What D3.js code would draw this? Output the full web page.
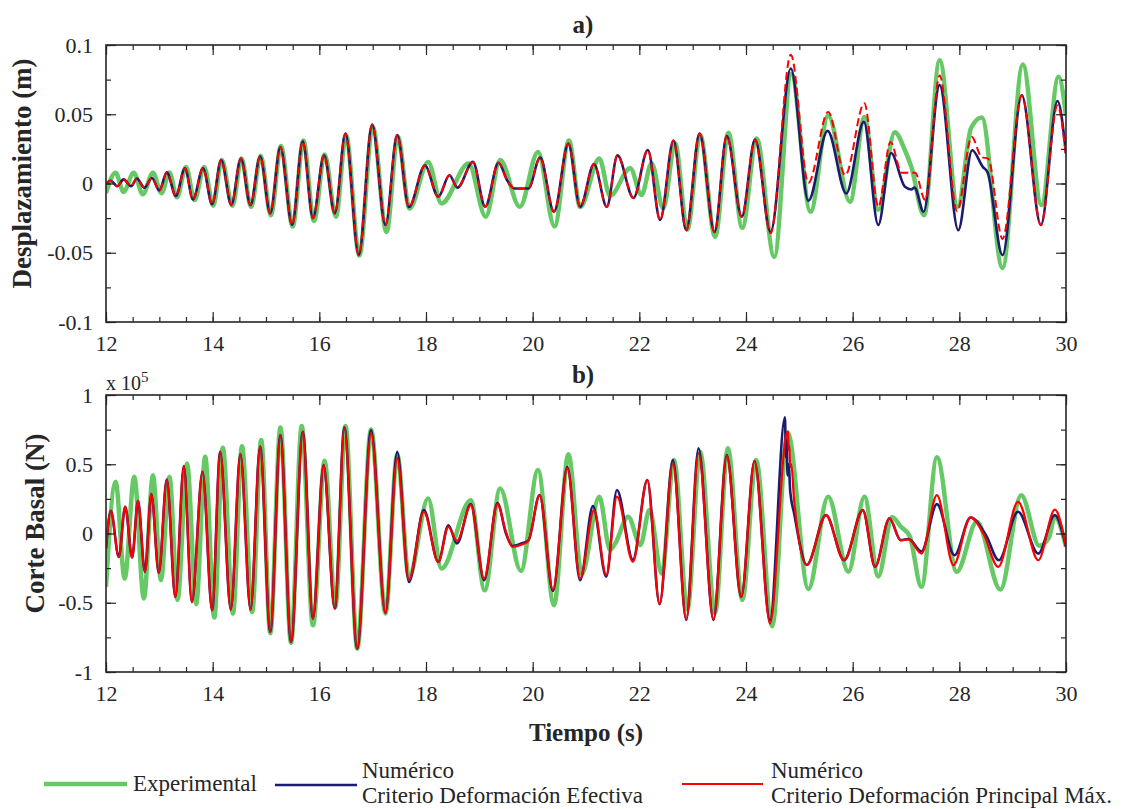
<!DOCTYPE html>
<html>
<head>
<meta charset="utf-8">
<script src="https://cdn.jsdelivr.net/npm/d3@7"></script>
<style>
  body { margin: 0; background: #fff; }
  svg { display: block; }
</style>
</head>
<body>
<svg id="chart" width="1126" height="809" font-family="'Liberation Serif', 'Times New Roman', Times, serif"></svg>
<script>
//---------------------------------------- data ----------------------------------------
// [tiempo (s), valor] -- desplazamiento en m
var dispExp = [[12.0,-0.007],[12.18,0.0077],[12.33,-0.006],[12.52,0.0077],[12.69,-0.0077],[12.88,0.0077],[13.04,-0.007],[13.19,0.008],[13.33,-0.010],[13.5,0.012],[13.66,-0.012],[13.84,0.012],[14.01,-0.016],[14.17,0.017],[14.37,-0.016],[14.54,0.018],[14.72,-0.017],[14.9,0.020],[15.09,-0.023],[15.28,0.027],[15.5,-0.031],[15.7,0.031],[15.9,-0.027],[16.1,0.021],[16.31,-0.024],[16.5,0.035],[16.75,-0.052],[17.0,0.041],[17.26,-0.035],[17.47,0.034],[17.69,-0.018],[18.04,0.0156],[18.29,-0.0144],[18.8,0.0144],[19.12,-0.024],[19.39,0.017],[19.76,-0.0168],[20.1,0.0228],[20.41,-0.031],[20.68,0.031],[20.89,-0.017],[21.25,0.018],[21.45,-0.009],[21.83,0.011],[22.04,-0.0083],[22.23,0.0146],[22.45,-0.018],[22.67,0.029],[22.9,-0.0333],[23.14,0.035],[23.42,-0.0384],[23.67,0.0367],[23.93,-0.032],[24.2,0.0325],[24.53,-0.053],[24.85,0.079],[25.21,-0.0204],[25.54,0.049],[25.95,-0.0132],[26.22,0.048],[26.48,-0.019],[26.79,0.037],[26.98,0.024],[27.1,0.012],[27.34,-0.023],[27.63,0.089],[27.97,-0.0168],[28.22,0.040],[28.42,0.0476],[28.81,-0.061],[29.19,0.086],[29.54,-0.0156],[29.86,0.077],[30.0,0.049]];

// tramo donde los dos modelos numericos coinciden
var dispNumComun = [[12.0,0],[12.09,0.002],[12.21,-0.002],[12.33,0.003],[12.47,-0.002],[12.58,0.0036],[12.72,-0.003],[12.86,0.004],[13.0,-0.005],[13.14,0.008],[13.31,-0.009],[13.48,0.011],[13.63,-0.0115],[13.82,0.011],[13.99,-0.015],[14.16,0.017],[14.35,-0.0154],[14.53,0.018],[14.71,-0.0156],[14.89,0.0197],[15.08,-0.0216],[15.27,0.0264],[15.49,-0.030],[15.69,0.0305],[15.88,-0.025],[16.09,0.0204],[16.29,-0.0216],[16.49,0.036],[16.74,-0.0517],[16.99,0.0425],[17.24,-0.030],[17.46,0.035],[17.68,-0.017],[17.98,0.013],[18.23,-0.0096],[18.44,0.006],[18.59,-0.003],[18.88,0.0156],[19.11,-0.0168],[19.36,0.015],[19.52,0.0024],[19.66,-0.0036],[19.92,-0.0036],[20.14,0.0188],[20.4,-0.0204],[20.67,0.0288],[20.89,-0.0168],[21.15,0.014],[21.39,-0.0168],[21.59,0.0203],[21.89,-0.0105],[22.16,0.0242],[22.39,-0.0264],[22.64,0.031],[22.88,-0.0336],[23.13,0.036],[23.41,-0.035],[23.64,0.0343],[23.92,-0.024],[24.17,0.0317]];
var dispEfFinal = [[24.46,-0.035],[24.84,0.083],[25.17,-0.0125],[25.53,0.038],[25.88,-0.0072],[26.21,0.0445],[26.48,-0.030],[26.72,0.022],[26.98,-0.0024],[27.1,-0.0043],[27.16,-0.003],[27.33,-0.0204],[27.63,0.071],[27.98,-0.0337],[28.24,0.024],[28.44,0.012],[28.53,0.008],[28.81,-0.0517],[29.17,0.0637],[29.53,-0.030],[29.84,0.0596],[30.0,0.0216]];
var dispPmFinal = [[24.46,-0.036],[24.84,0.093],[25.17,0.0005],[25.54,0.0517],[25.86,0.006],[26.22,0.058],[26.48,-0.0168],[26.71,0.030],[26.92,0.0077],[27.17,0.0077],[27.36,-0.012],[27.63,0.078],[27.96,-0.020],[28.23,0.0337],[28.42,0.019],[28.54,0.018],[28.81,-0.040],[29.17,0.0637],[29.53,-0.030],[29.84,0.0565],[30.0,0.019]];

// corte basal en unidades de 1e5 N
var shearExp = [[12.0,-0.385],[12.18,0.373],[12.35,-0.325],[12.53,0.41],[12.71,-0.47],[12.88,0.42],[13.03,-0.337],[13.19,0.41],[13.34,-0.48],[13.52,0.506],[13.69,-0.51],[13.86,0.554],[14.03,-0.607],[14.19,0.62],[14.38,-0.578],[14.55,0.63],[14.74,-0.566],[14.91,0.675],[15.08,-0.72],[15.27,0.766],[15.47,-0.79],[15.67,0.776],[15.88,-0.663],[16.1,0.525],[16.3,-0.53],[16.49,0.776],[16.71,-0.83],[16.97,0.75],[17.24,-0.578],[17.46,0.573],[17.68,-0.313],[18.04,0.253],[18.29,-0.253],[18.84,0.24],[19.1,-0.41],[19.39,0.325],[19.78,-0.27],[20.1,0.458],[20.4,-0.518],[20.67,0.573],[20.92,-0.294],[21.25,0.265],[21.45,-0.119],[21.55,-0.07],[21.79,0.121],[22.02,-0.083],[22.19,0.17],[22.42,-0.29],[22.65,0.53],[22.9,-0.55],[23.14,0.59],[23.42,-0.575],[23.66,0.615],[23.93,-0.48],[24.19,0.53],[24.49,-0.67],[24.78,0.73],[25.17,-0.40],[25.54,0.266],[25.92,-0.276],[26.22,0.266],[26.48,-0.31],[26.74,0.12],[26.9,0.05],[27.07,-0.02],[27.29,-0.385],[27.58,0.55],[27.95,-0.277],[28.33,0.084],[28.77,-0.405],[29.16,0.277],[29.5,-0.089],[29.68,-0.03],[29.79,0.12],[30.0,-0.096]];

var shearNumComun = [[12.0,-0.11],[12.09,0.164],[12.24,-0.169],[12.36,0.193],[12.49,-0.173],[12.6,0.236],[12.73,-0.277],[12.85,0.284],[12.99,-0.284],[13.14,0.39],[13.3,-0.458],[13.46,0.487],[13.61,-0.494],[13.81,0.446],[13.99,-0.554],[14.14,0.59],[14.34,-0.549],[14.52,0.573],[14.71,-0.549],[14.89,0.627],[15.08,-0.711],[15.27,0.711],[15.47,-0.783],[15.69,0.735],[15.88,-0.614],[16.08,0.494],[16.29,-0.542],[16.47,0.766],[16.71,-0.831]];
var shearEfResto = [[16.97,0.747],[17.24,-0.573],[17.46,0.59],[17.68,-0.35],[17.96,0.17],[18.23,-0.205],[18.42,0.06],[18.58,-0.072],[18.84,0.212],[19.09,-0.337],[19.34,0.22],[19.5,0.0],[19.62,-0.09],[19.8,-0.07],[19.92,-0.05],[20.13,0.277],[20.38,-0.415],[20.65,0.48],[20.89,-0.337],[21.13,0.198],[21.38,-0.312],[21.58,0.314],[21.88,-0.19],[22.15,0.386],[22.38,-0.51],[22.63,0.53],[22.88,-0.624],[23.11,0.615],[23.39,-0.624],[23.64,0.567],[23.91,-0.458],[24.16,0.523],[24.45,-0.627],[24.73,0.839],[24.75,0.55],[24.76,0.68],[24.78,0.42],[24.8,0.5],[24.83,0.3],[24.9,0.15],[25.14,-0.227],[25.5,0.133],[25.84,-0.193],[26.19,0.169],[26.42,-0.24],[26.69,0.108],[26.9,-0.048],[27.05,-0.04],[27.29,-0.13],[27.58,0.212],[27.91,-0.157],[28.21,0.116],[28.5,-0.012],[28.74,-0.193],[29.1,0.157],[29.48,-0.145],[29.79,0.133],[30.0,-0.096]];
var shearPmResto = [[16.97,0.723],[17.24,-0.573],[17.46,0.542],[17.68,-0.333],[17.96,0.157],[18.23,-0.205],[18.42,0.048],[18.58,-0.053],[18.84,0.205],[19.09,-0.325],[19.34,0.212],[19.5,0.01],[19.62,-0.096],[19.8,-0.08],[19.92,-0.053],[20.13,0.277],[20.38,-0.405],[20.65,0.47],[20.89,-0.325],[21.15,0.169],[21.38,-0.3],[21.58,0.266],[21.88,-0.205],[22.15,0.386],[22.38,-0.51],[22.63,0.506],[22.88,-0.62],[23.11,0.578],[23.39,-0.62],[23.64,0.56],[23.91,-0.458],[24.16,0.523],[24.45,-0.65],[24.75,0.70],[24.79,0.735],[24.8,0.6],[24.81,0.64],[24.83,0.48],[24.85,0.5],[24.9,0.25],[25.14,-0.227],[25.5,0.133],[25.84,-0.193],[26.19,0.169],[26.42,-0.24],[26.69,0.112],[26.9,-0.048],[27.05,-0.043],[27.29,-0.145],[27.58,0.277],[27.89,-0.229],[28.21,0.116],[28.45,0.0],[28.73,-0.241],[29.1,0.229],[29.48,-0.193],[29.79,0.173],[30.0,-0.096]];

var xTicks = [12, 14, 16, 18, 20, 22, 24, 26, 28, 30];
var dispTicks = [-0.1, -0.05, 0, 0.05, 0.1];
var shearTicks = [-1, -0.5, 0, 0.5, 1];
var legendNames = ["Experimental", ["Numérico", "Criterio Deformación Efectiva"], ["Numérico", "Criterio Deformación Principal Máx."]];

//---------------------------------------- setup ----------------------------------------
var serif = "'Liberation Serif', 'Times New Roman', Times, serif";
var green = "#66c966", navy = "#1c1c6e", red = "#ff0000", ink = "#262626";
var svg = d3.select("#chart");
var left = 106, right = 1066;

var x = d3.scaleLinear().domain([12, 30]).range([left, right]);

function fmt(d) { return d === 0 ? "0" : String(+d.toFixed(3)); }

function txt(sel, size, bold) {
    return sel.style("font-family", serif)
        .style("font-size", size + "px")
        .style("font-weight", bold ? "bold" : "normal")
        .attr("fill", ink);
}

function drawPanel(p) {
    var y = d3.scaleLinear().domain(p.domain).range([p.bottom, p.top]);
    var g = svg.append("g");

    g.append("clipPath").attr("id", p.id)
        .append("rect").attr("x", left).attr("y", p.top)
        .attr("width", right - left).attr("height", p.bottom - p.top);

    var line = d3.line()
        .x(function(d) { return x(d[0]); })
        .y(function(d) { return y(d[1]); })
        .curve(d3.curveMonotoneX);

    var lines = g.append("g").attr("clip-path", "url(#" + p.id + ")");
    p.series.forEach(function(s) {
        lines.append("path")
            .attr("d", line(s.data))
            .attr("fill", "none")
            .attr("stroke", s.color)
            .attr("stroke-width", s.width)
            .attr("stroke-linejoin", "round")
            .attr("stroke-dasharray", s.dash || null);
    });

    var xMinor = d3.range(12, 30.01, 0.5);
    var yStep = (p.domain[1] - p.domain[0]) / 8;
    var yMinor = d3.range(0, 9).map(function(i) { return p.domain[0] + i * yStep; });

    // major + minor ticks on all four sides, pointing inwards
    var axes = [
        [d3.axisBottom(x).tickValues(xTicks).tickSize(-10).tickPadding(13).tickFormat(d3.format("d")), "translate(0," + p.bottom + ")"],
        [d3.axisBottom(x).tickValues(xMinor).tickSize(-5).tickFormat(""), "translate(0," + p.bottom + ")"],
        [d3.axisTop(x).tickValues(xTicks).tickSize(-10).tickFormat(""), "translate(0," + p.top + ")"],
        [d3.axisTop(x).tickValues(xMinor).tickSize(-5).tickFormat(""), "translate(0," + p.top + ")"],
        [d3.axisLeft(y).tickValues(p.ticks).tickSize(-10).tickPadding(13).tickFormat(fmt), "translate(" + left + ",0)"],
        [d3.axisLeft(y).tickValues(yMinor).tickSize(-5).tickFormat(""), "translate(" + left + ",0)"],
        [d3.axisRight(y).tickValues(p.ticks).tickSize(-10).tickFormat(""), "translate(" + right + ",0)"],
        [d3.axisRight(y).tickValues(yMinor).tickSize(-5).tickFormat(""), "translate(" + right + ",0)"]
    ];
    axes.forEach(function(a) {
        var ag = g.append("g").attr("transform", a[1]).call(a[0]);
        ag.select(".domain").remove();
        ag.attr("font-family", serif).attr("font-size", 22);
        ag.selectAll("line").attr("stroke", ink).attr("stroke-width", 1.2);
        txt(ag.selectAll("text"), 22, false);
    });

    g.append("rect")
        .attr("x", left).attr("y", p.top)
        .attr("width", right - left).attr("height", p.bottom - p.top)
        .attr("fill", "none").attr("stroke", ink).attr("stroke-width", 1.6);

    txt(g.append("text"), 25, true)
        .attr("x", 583).attr("y", p.top - 12)
        .attr("text-anchor", "middle")
        .text(p.title);

    txt(g.append("text"), 27, true)
        .attr("transform", "translate(" + p.labelX + "," + ((p.top + p.bottom) / 2 - 10) + ") rotate(-90)")
        .attr("text-anchor", "middle")
        .text(p.label);
    return g;
}

drawPanel({
    id: "clipA", top: 45, bottom: 322, domain: [-0.1, 0.1], ticks: dispTicks,
    title: "a)", label: "Desplazamiento (m)", labelX: 31,
    series: [
        { data: dispExp, color: green, width: 4.5 },
        { data: dispNumComun.concat(dispEfFinal), color: navy, width: 2.6 },
        { data: dispNumComun.concat(dispPmFinal), color: red, width: 2, dash: "8,4" }
    ]
});

var gB = drawPanel({
    id: "clipB", top: 395, bottom: 672, domain: [-1, 1], ticks: shearTicks,
    title: "b)", label: "Corte Basal (N)", labelX: 44,
    series: [
        { data: shearExp, color: green, width: 4.5 },
        { data: shearNumComun.concat(shearEfResto), color: navy, width: 2.6 },
        { data: shearNumComun.concat(shearPmResto), color: red, width: 2.2 }
    ]
});

// factor de escala del eje y
var mult = txt(gB.append("text"), 20, false).attr("x", 106).attr("y", 390);
mult.append("tspan").text("x 10");
mult.append("tspan").attr("dy", -8).style("font-size", "15px").text("5");

txt(svg.append("text"), 25, true)
    .attr("x", 586).attr("y", 741)
    .attr("text-anchor", "middle")
    .text("Tiempo (s)");

//---------------------------------------- legend ----------------------------------------
var legendItems = [
    { x1: 44, x2: 127, y: 784, color: green, width: 4.5, tx: 133 },
    { x1: 275, x2: 357, y: 785, color: navy, width: 2.6, tx: 362 },
    { x1: 682, x2: 763, y: 784, color: red, width: 2.2, tx: 771 }
];
var legend = svg.append("g");
legendItems.forEach(function(it, i) {
    legend.append("line")
        .attr("x1", it.x1).attr("x2", it.x2).attr("y1", it.y).attr("y2", it.y)
        .attr("stroke", it.color).attr("stroke-width", it.width);
    var name = legendNames[i];
    if (typeof name === "string") {
        txt(legend.append("text"), 23, false).attr("x", it.tx).attr("y", 791).text(name);
    } else {
        txt(legend.append("text"), 23, false).attr("x", it.tx).attr("y", 778).text(name[0]);
        txt(legend.append("text"), 23, false).attr("x", it.tx).attr("y", 803).text(name[1]);
    }
});
</script>
</body>
</html>
